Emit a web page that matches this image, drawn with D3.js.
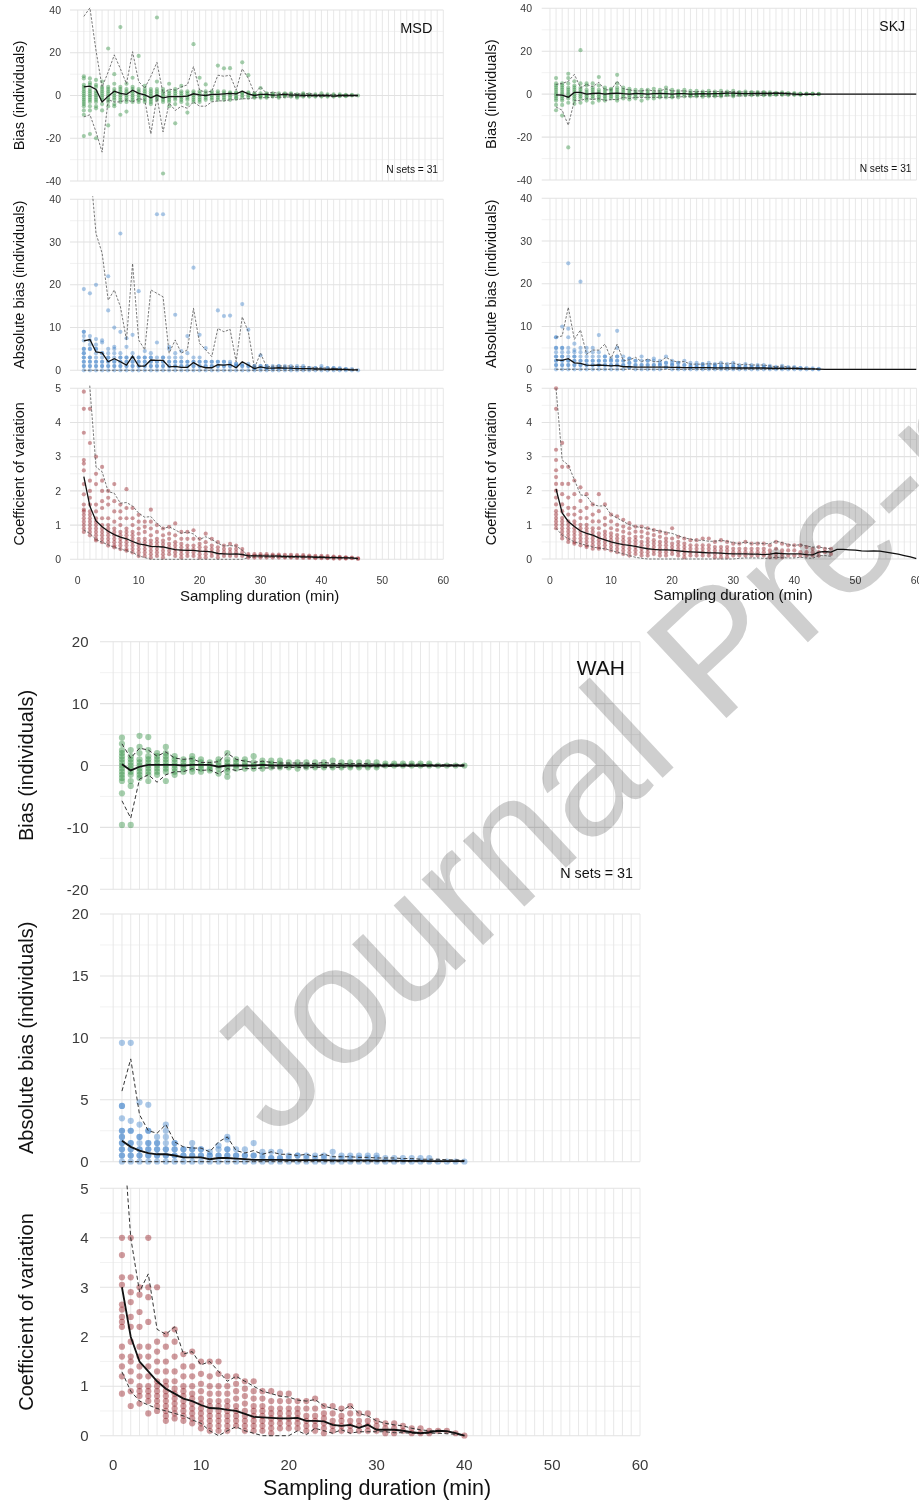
<!DOCTYPE html>
<html>
<head>
<meta charset="utf-8">
<script src="https://cdn.jsdelivr.net/npm/d3@7"></script>
<style>
  body { margin: 0; background: #fff; }
  svg { display: block; font-family: "Liberation Sans", Arial, sans-serif; }
</style>
</head>
<body>
<svg id="chart" width="919" height="1502"></svg>
<script>
// ---------- data ----------
const xTickLabels = [0, 10, 20, 30, 40, 50, 60];

// MSD
const msdBiasPts = [
  [9,8,5,4,3,2,1,0,-1,-2,-3,-4,-5,-7,-9,-19],
  [8,6,5,3,2,1,0,-1,-2,-3,-5,-7,-18],
  [7.3,5,4,2,1,0,-1,-2,-3,-5,-6,-20],
  [6.5,4,3,2,1,0,-1,-2,-4,-7],
  [22,4,3,2,1,0,-1,-2,-3,-5,-14],
  [10,5.5,3,2,1,0,-1,-2,-4,-5],
  [32,4,3,2,1,0,-1,-2,-3,-9],
  [5.5,3,2,1,0,-1,-2,-3,-7.5],
  [8.3,4,3,2,1,0,-1,-2,-3],
  [18.5,3,2,1,0,-1,-2,-3],
  [4.5,3,2,1,0,-1,-2,-3],
  [3,2,1,0,-1,-2,-3,-4],
  [36.5,6.5,3,2,1,0,-1,-2],
  [3,2,1,0,-1,-2,-3,-36.5],
  [5.5,2,1,0,-1,-2,-3,-5],
  [3,2,1,0,-1,-2,-4,-13],
  [4.5,2,1,0,-1,-2,-3],
  [2,1,0,-1,-2,-4,-8],
  [24,2,1,0,-1,-2,-3],
  [8.3,2,1,0,-1,-2,-3],
  [5.2,2,1,0,-1,-2],
  [2,1,0,-1,-2],
  [14,2,1,0,-1,-2],
  [12.7,2,1,0,-1,-2],
  [12.8,1.5,1,0,-1,-2],
  [1.5,1,0,-1,-1.5],
  [15.5,1.5,1,0,-1],
  [9.5,1.5,1,0,-1],
  [1,0.5,0,-0.5,-1],
  [3.5,1,0,-0.5,-1],
  [1,0.5,0,-0.5,-1],
  [1,0.5,0,-0.5],
  [1,0,-0.5,-1],
  [1,0.5,0,-0.5],
  [1,0.5,0,-0.5],
  [0.5,0,-0.5,-1],
  [1,0.5,0,-0.5],
  [0.5,0,-0.5],
  [0.5,0,-0.5],
  [1,0,-0.5],
  [0.5,0,-0.5],
  [0.5,0,-0.5],
  [0.5,0,-0.3],
  [0.3,0,-0.3],
  [0.3,0],
  [0]
];
const msdBiasMean = [4,4.4,2.8,-3,-0.3,2,1,0.5,2.5,1,0.3,-1.1,0.2,-1.1,-0.5,-0.5,-0.5,-0.3,0.8,0.3,0,0.5,0.5,0.8,1,0.8,2,0.8,0,0.5,0.5,0.2,0.3,0.5,0.2,0.3,0,0.2,0,0,0.1,-0.3,0,0,0,0];
const msdBiasUpper = [37,41,21,4,11,19,12.5,5.5,20.5,6.5,3.5,9,15.5,1,3,2.5,4,5,13.5,2.5,1.5,2,9.5,9,9.5,2.5,12.5,8,1,4,1,1.5,1,1,1,0.8,0.8,1,0.5,0.5,0.5,0.5,0.3,0.3,0.2,0.2];
const msdBiasLower = [-10,-9,-17,-26.5,-2,-3,-3,-2,-3,-1.5,-2,-18,-0.5,-17,-3.5,-7,-5,-6,-3,-5,-5,-3,-2.5,-2.5,-2,-2,-1.5,-1.5,-1,-1,-1,-0.8,-0.8,-0.8,-0.6,-0.6,-0.5,-0.5,-0.5,-0.5,-0.4,-0.6,-0.3,-0.3,-0.2,-0.2];
const msdAbsMean = [6.9,7.2,4.3,4.1,2,2.7,2,1.2,3.3,1,1,2.4,2.3,2.3,0.8,0.9,0.7,0.7,1.8,1,0.6,0.6,1.3,1.2,1.4,0.6,2,1.2,0.4,0.8,0.5,0.5,0.6,0.5,0.5,0.4,0.4,0.4,0.3,0.3,0.2,0.3,0.2,0.2,0.1,0.1];
const msdAbsUpper = [45,48,32,27.4,16.4,18.8,14.9,7.1,25,7.1,4.8,18.8,18,17.2,4,7.1,4,4.8,14.5,6.3,4.8,3.2,9.8,9,9.6,2,12.5,9,0.5,4,0.8,1,1,1,1,0.8,0.8,0.8,0.6,0.6,0.5,0.5,0.4,0.3,0.3,0.2];
const msdCvPts = [
  [4.9,4.4,3.7,2.9,2.8,2.6,2.2,1.9,1.6,1.45,1.4,1.3,1.2,1.1,1.0,0.9,0.8],
  [4.4,3.4,2.3,2.0,1.8,1.6,1.4,1.3,1.2,1.1,1.0,0.9,0.8,0.7],
  [3.0,2.5,2.2,1.6,1.4,1.2,1.1,1.0,0.9,0.8,0.7,0.6,0.55],
  [2.7,2.3,2.0,1.7,1.5,1.2,1.0,0.9,0.8,0.7,0.6,0.5],
  [2.0,1.8,1.6,1.2,1.0,0.9,0.8,0.7,0.6,0.5,0.4],
  [2.2,1.7,1.4,1.1,0.9,0.8,0.7,0.6,0.5,0.4,0.35],
  [1.6,1.4,1.2,1.0,0.8,0.7,0.6,0.5,0.4,0.3],
  [2.05,1.5,1.2,0.9,0.8,0.7,0.6,0.5,0.4,0.3,0.25],
  [1.5,1.2,1.0,0.8,0.7,0.6,0.5,0.4,0.3,0.2],
  [1.3,1.1,0.9,0.75,0.6,0.5,0.4,0.3,0.2,0.1],
  [1.1,0.95,0.8,0.6,0.5,0.4,0.3,0.2,0.1],
  [1.45,1.1,0.9,0.7,0.55,0.45,0.35,0.25,0.15,0.05],
  [1.0,0.8,0.6,0.5,0.4,0.3,0.2,0.1],
  [0.9,0.7,0.55,0.45,0.35,0.25,0.15,0.05],
  [0.95,0.75,0.6,0.45,0.35,0.25,0.15],
  [1.05,0.7,0.5,0.4,0.3,0.2,0.1],
  [0.8,0.6,0.45,0.35,0.25,0.15,0.05],
  [0.8,0.6,0.4,0.3,0.2,0.1],
  [0.85,0.6,0.4,0.3,0.2,0.1],
  [0.6,0.45,0.35,0.25,0.15,0.05],
  [0.75,0.5,0.35,0.25,0.15,0.05],
  [0.6,0.4,0.3,0.2,0.1],
  [0.5,0.35,0.25,0.15,0.05],
  [0.4,0.3,0.2,0.1],
  [0.45,0.3,0.2,0.1],
  [0.4,0.3,0.2,0.1],
  [0.3,0.2,0.1],
  [0.15,0.1,0.05],
  [0.15,0.1,0.05],
  [0.15,0.1,0.05],
  [0.15,0.1,0.05],
  [0.14,0.1,0.05],
  [0.14,0.1,0.05],
  [0.13,0.08,0.05],
  [0.13,0.08,0.05],
  [0.12,0.08,0.04],
  [0.12,0.08,0.04],
  [0.11,0.07,0.04],
  [0.1,0.06,0.03],
  [0.1,0.06,0.03],
  [0.09,0.05,0.03],
  [0.08,0.05,0.02],
  [0.07,0.05,0.02],
  [0.06,0.04,0.02],
  [0.05,0.03],
  [0.03,0.01]
];
const msdCvMean = [2.42,1.55,1.12,0.95,0.82,0.72,0.65,0.6,0.52,0.45,0.42,0.38,0.37,0.36,0.32,0.28,0.27,0.26,0.26,0.24,0.23,0.22,0.17,0.16,0.15,0.16,0.14,0.1,0.1,0.1,0.09,0.09,0.09,0.08,0.08,0.08,0.07,0.07,0.06,0.06,0.05,0.05,0.05,0.04,0.04,0.02];
const msdCvUpper = [8,5,2.7,2.56,1.98,1.93,1.64,1.66,1.56,1.35,1.23,1.25,1.05,0.9,0.95,0.86,0.76,0.8,0.74,0.58,0.66,0.58,0.47,0.39,0.4,0.39,0.27,0.1,0.12,0.12,0.12,0.12,0.11,0.11,0.1,0.1,0.1,0.09,0.08,0.08,0.07,0.07,0.06,0.06,0.05,0.03];
const msdCvLower = [0.86,0.75,0.58,0.5,0.42,0.35,0.3,0.25,0.2,0.1,0.05,0,0,0,0,0,0,0,0,0,0,0,0,0,0,0,0,0.05,0.07,0.07,0.06,0.06,0.06,0.05,0.05,0.05,0.05,0.05,0.04,0.04,0.04,0.03,0.03,0.03,0.02,0.01];

// SKJ
const skjBiasPts = [
  [7.5,5,4,3,2,1,0,-1,-2,-3,-5,-7.5],
  [5,4,3,2,1,0,-1,-2,-3,-5,-10],
  [9.5,7.5,5,3,2,1,0,-1,-2,-4,-24.8],
  [6,4,3,2,1,0,-1,-2,-3,-4.5],
  [20.5,5,3,2,1,0,-1,-2,-4],
  [5,4,2,1,0,-1,-2,-3],
  [5,3,2,1,0,-1,-2,-4],
  [8,4,2,1,0,-1,-2,-3],
  [3,2,1,0,-1,-2,-3],
  [2.5,2,1,0,-1,-2],
  [9,5,3,2,1,0,-1,-2,-3],
  [3,2,1,0,-1,-2],
  [2.5,1.5,0.5,-0.5,-1.5,-2.5],
  [2,1,0,-1,-2],
  [2,1,0,-1,-3],
  [2,1,0,-1,-2],
  [2.5,1,0,-1,-2],
  [2,1,0,-1,-1.5],
  [3,1.5,0.5,-0.5,-1.5],
  [2,1,0,-1,-1.5],
  [1.5,0.5,0,-0.5,-1.5],
  [2,1,0,-1],
  [1.5,0.5,0,-0.5,-1],
  [1.5,0.5,0,-0.5,-1],
  [1.2,0.5,0,-0.5,-1.2],
  [1.5,0.5,0,-0.5,-1],
  [1.2,0.5,0,-0.5,-1],
  [1.5,0.5,0,-0.5,-1],
  [1.2,0.5,0,-0.5],
  [1.5,0.5,0,-0.5,-1],
  [1,0.5,0,-0.5],
  [1.2,0.5,0,-0.5],
  [1,0.5,0,-0.5],
  [1,0.5,0,-0.5],
  [1,0.5,0,-0.5],
  [0.8,0.3,0,-0.5],
  [0.6,0.3,0,-0.3],
  [0.8,0.3,0,-0.3],
  [0.5,0,-0.3],
  [0.5,0,-0.3],
  [0.3,0,-0.3],
  [0.3,0],
  [0.2,0],
  [0.1,0]
];
const skjBiasMean = [-0.3,-0.5,-1.4,0.8,0.8,0,0.3,0.5,0,0.3,0.5,0.2,0,0.3,0.2,0,0.2,0.3,0.2,0,0.2,0.2,0,0.1,0.2,0.1,0.2,0.3,0.5,0.5,0.3,0.2,0.2,0.3,0.3,0.3,0.5,0.4,0.2,0,-0.2,0,-0.1,0,0,0,0,0,0,0,0,0,0,0,0,0,0,0,0,0];
const skjBiasUpper = [4.5,5,6,9.2,3,4.5,3.5,5.5,2,2,6,2.5,2,1.5,1.5,2,1.5,1.5,2.5,1.5,1.5,1.5,1.2,1.2,1.2,1.2,1.2,1.2,1.2,1.2,1,1,1,1,1,0.8,0.8,0.8,0.5,0.5,0.3,0.3,0.2,0.1];
const skjBiasLower = [-6,-7.5,-14.5,-3,-3,-2,-2.5,-2,-3,-2.5,-2.5,-1.5,-2,-1.5,-1.5,-1.5,-1.5,-1.5,-1.5,-1.5,-1.2,-1.2,-1.2,-1.2,-1,-1,-1,-1,-0.8,-0.8,-0.8,-0.8,-0.6,-0.6,-0.6,-0.5,-0.5,-0.5,-0.4,-0.4,-0.3,-0.2,-0.2,-0.1];
const skjAbsMean = [2.2,2.1,2.5,1.5,1.4,1,0.9,1,0.9,0.8,0.9,0.6,0.6,0.5,0.5,0.5,0.5,0.5,0.5,0.45,0.45,0.4,0.4,0.4,0.4,0.4,0.35,0.35,0.35,0.35,0.3,0.3,0.3,0.3,0.3,0.25,0.25,0.25,0.2,0.2,0.15,0.1,0.1,0.05,0,0,0,0,0,0,0,0,0,0,0,0,0,0,0,0];
const skjAbsUpper = [7.5,7.8,14.5,7,9.2,3.5,4.5,4.5,5.9,2.5,5.9,2,2.2,2.8,1.8,2.4,1.8,1.8,2.8,2,1.7,1.8,1.2,1.2,1.2,1.3,1.2,1.5,1.2,1.5,1,1.2,1,1,1,0.8,0.6,0.8,0.5,0.5,0.3,0.3,0.2,0.1];
const skjCvPts = [
  [5.0,4.4,3.2,2.9,2.6,2.4,2.2,2.0,1.8,1.6,1.4,1.3,1.2,1.1,1.0,0.9],
  [3.4,2.7,2.2,1.9,1.6,1.4,1.2,1.1,1.0,0.9,0.8,0.7,0.6],
  [2.7,2.2,1.8,1.5,1.3,1.1,1.0,0.9,0.8,0.7,0.6,0.5],
  [2.3,1.9,1.5,1.3,1.1,1.0,0.9,0.8,0.7,0.6,0.5,0.45],
  [2.1,1.7,1.4,1.2,1.0,0.9,0.8,0.7,0.6,0.5,0.4],
  [1.9,1.5,1.2,1.0,0.9,0.8,0.7,0.6,0.5,0.4,0.35],
  [1.6,1.3,1.1,0.9,0.8,0.7,0.6,0.5,0.4,0.3],
  [1.9,1.4,1.1,0.9,0.75,0.65,0.55,0.45,0.35,0.3],
  [1.6,1.2,1.0,0.8,0.7,0.6,0.5,0.4,0.3],
  [1.3,1.1,0.9,0.75,0.65,0.55,0.45,0.35,0.25],
  [1.25,1.0,0.85,0.7,0.6,0.5,0.4,0.3,0.2],
  [1.15,0.95,0.8,0.65,0.55,0.45,0.35,0.25,0.15],
  [1.05,0.9,0.75,0.6,0.5,0.4,0.3,0.2,0.1],
  [0.95,0.8,0.65,0.55,0.45,0.35,0.25,0.15],
  [0.95,0.8,0.65,0.5,0.4,0.3,0.2,0.1],
  [0.9,0.75,0.6,0.5,0.4,0.3,0.2,0.1],
  [0.85,0.7,0.55,0.45,0.35,0.25,0.15],
  [0.8,0.65,0.5,0.4,0.3,0.2,0.1],
  [0.75,0.6,0.5,0.4,0.3,0.2,0.1],
  [0.9,0.6,0.45,0.35,0.25,0.15],
  [0.65,0.5,0.4,0.3,0.2,0.1],
  [0.6,0.45,0.35,0.25,0.15,0.05],
  [0.55,0.4,0.3,0.2,0.1],
  [0.55,0.4,0.3,0.2,0.1],
  [0.6,0.4,0.3,0.2,0.1],
  [0.6,0.4,0.3,0.2,0.1],
  [0.5,0.35,0.25,0.15,0.05],
  [0.55,0.35,0.25,0.15,0.05],
  [0.5,0.35,0.25,0.15,0.05],
  [0.45,0.3,0.2,0.1],
  [0.45,0.3,0.2,0.1],
  [0.5,0.3,0.2,0.1],
  [0.45,0.3,0.2,0.1],
  [0.45,0.3,0.2,0.1],
  [0.45,0.3,0.2,0.1],
  [0.4,0.25,0.15,0.05],
  [0.5,0.3,0.15,0.05],
  [0.45,0.25,0.15,0.05],
  [0.4,0.25,0.1],
  [0.4,0.25,0.1],
  [0.4,0.2,0.1],
  [0.35,0.2,0.1],
  [0.3,0.2,0.1],
  [0.35,0.2,0.1],
  [0.3,0.2],
  [0.3,0.15]
];
const skjCvMean = [2.05,1.35,1.1,0.95,0.82,0.75,0.7,0.62,0.56,0.5,0.46,0.42,0.4,0.37,0.33,0.3,0.28,0.27,0.27,0.26,0.24,0.22,0.21,0.2,0.19,0.18,0.18,0.17,0.16,0.15,0.15,0.15,0.14,0.14,0.13,0.14,0.17,0.16,0.15,0.15,0.15,0.13,0.12,0.2,0.22,0.2,0.28,0.28,0.27,0.26,0.24,0.23,0.24,0.23,0.2,0.17,0.14,0.1,0.06,0.01];
const skjCvUpper = [5,2.9,2.75,2.32,1.88,1.85,1.6,1.55,1.56,1.3,1.2,1.1,1,0.95,0.92,0.9,0.85,0.82,0.78,0.75,0.68,0.62,0.58,0.55,0.55,0.52,0.52,0.55,0.52,0.48,0.45,0.5,0.45,0.47,0.45,0.45,0.52,0.48,0.42,0.4,0.42,0.38,0.35,0.35,0.32,0.3];
const skjCvLower = [0.9,0.7,0.6,0.5,0.45,0.4,0.35,0.32,0.3,0.25,0.2,0.15,0.1,0.05,0.02,0,0,0,0,0,0,0,0,0,0,0,0,0,0,0,0.02,0.03,0.03,0.03,0.02,0.02,0.05,0.04,0.03,0.03,0.05,0.03,0.02,0.1,0.1,0.08];

// WAH
const wahBiasPts = [
  [4.5,3.5,2.5,2,1.5,1,0.5,0,-0.5,-1,-1.5,-2,-2.5,-4.5,-9.6],
  [2.5,1.5,1,0.5,0,-0.5,-1,-1.5,-2.5,-3.3,-9.6],
  [4.8,3,2,1,0.5,0,-0.5,-1,-1.5,-2],
  [4.6,2.5,1.5,1,0.5,0,-0.5,-1,-1.5,-2.5],
  [2,1.5,1,0.5,0,-0.5,-1,-1.5],
  [3,2,1.5,1,0.5,0,-0.5,-1,-2.5],
  [1.5,1,0.5,0,-0.5,-1,-1.5],
  [1,0.5,0,-0.5,-1],
  [1.5,1,0.5,0,-0.5,-1],
  [1,0.5,0,-0.5,-1],
  [0.5,0,-0.5,-0.8],
  [1,0.5,0,-0.5,-1.3],
  [2,1,0.5,0,-0.5,-1,-1.8],
  [1,0.5,0,-0.5],
  [1,0.5,0,-0.5],
  [1.5,0.5,0,-0.5],
  [0.8,0.3,0,-0.5],
  [0.8,0.3,0,-0.3],
  [0.8,0.3,0,-0.3],
  [0.5,0,-0.3],
  [0.5,0,-0.5],
  [0.5,0,-0.3],
  [0.5,0,-0.3],
  [0.5,0,-0.3],
  [0.8,0,-0.3],
  [0.5,0,-0.3],
  [0.5,0,-0.3],
  [0.5,0,-0.3],
  [0.5,0,-0.3],
  [0.5,0,-0.3],
  [0.3,0],
  [0.3,0],
  [0.3,0],
  [0.3,0],
  [0.3,0],
  [0.3,0],
  [0],
  [0],
  [0],
  [0]
];
const wahBiasMean = [0.2,-0.8,-0.2,0.1,0.1,0.1,0.1,0,0.1,0.1,0.1,-0.2,0,0,0,0,0.1,0,0,0,0,0,0,0,0,0,0,0,0,0,0,0,0,0,0,0,0,0,0,0];
const wahBiasUpper = [3.5,1.2,2.8,2.5,1.5,2.2,1.2,1,1.1,0.5,0.5,0.6,2,1,0.7,0.5,0.7,0.5,0.4,0.4,0.4,0.4,0.3,0.5,0.3,0.3,0.3,0.3,0.3,0.2,0.2,0.2,0.2,0.2,0.2,0.1,0.1,0.1,0.1,0.1];
const wahBiasLower = [-5.7,-8.5,-2.2,-1.5,-2.7,-1.5,-1,-1,-0.5,-0.8,-0.7,-1.35,-0.5,-0.8,-0.5,-0.5,-0.4,-0.4,-0.4,-0.3,-0.3,-0.4,-0.3,-0.3,-0.3,-0.3,-0.2,-0.2,-0.2,-0.2,-0.2,-0.1,-0.1,-0.1,-0.1,-0.1,-0.1,-0.1,-0.1,-0.1];
const wahAbsMean = [1.7,1.2,0.9,0.7,0.6,0.6,0.5,0.35,0.35,0.35,0.2,0.3,0.3,0.25,0.2,0.15,0.15,0.15,0.15,0.12,0.12,0.12,0.12,0.12,0.1,0.1,0.1,0.1,0.1,0.08,0.08,0.08,0.06,0.06,0.06,0.05,0.05,0.05,0.05,0.05];
const wahAbsUpper = [5.7,8.3,3.8,2.5,2.3,3,1.6,1.2,1.1,1.1,0.8,1.6,2,0.9,0.7,0.9,0.6,0.8,0.6,0.6,0.5,0.6,0.4,0.6,0.4,0.4,0.4,0.35,0.35,0.3,0.3,0.3,0.25,0.25,0.2,0.2,0.2,0.15,0.15,0.1];
const wahCvPts = [
  [4.0,3.65,3.2,3.05,2.65,2.55,2.4,2.3,2.2,1.8,1.6,1.4,1.2,0.85],
  [4.0,3.2,2.9,2.7,2.4,2.2,1.9,1.6,1.5,1.3,1.1,0.9,0.6],
  [3.0,2.85,2.5,2.2,1.8,1.6,1.4,1.2,1.0,0.9,0.8,0.65],
  [4.0,3.0,2.8,2.3,1.8,1.6,1.4,1.2,1.0,0.9,0.8,0.7,0.45],
  [3.0,1.9,1.7,1.5,1.3,1.1,1.0,0.9,0.8,0.7,0.6,0.5],
  [2.05,1.8,1.5,1.3,1.1,1.0,0.9,0.8,0.7,0.6,0.5,0.4,0.3],
  [2.15,1.9,1.6,1.3,1.1,0.95,0.85,0.75,0.65,0.55,0.45,0.35],
  [1.65,1.4,1.2,1.0,0.9,0.8,0.7,0.6,0.5,0.4,0.3],
  [1.7,1.4,1.2,1.0,0.85,0.75,0.65,0.55,0.45,0.35,0.25],
  [1.5,1.25,1.05,0.9,0.75,0.65,0.55,0.45,0.35,0.25,0.15],
  [1.5,1.2,1.0,0.85,0.7,0.6,0.5,0.4,0.3,0.2,0.1],
  [1.5,1.25,1.0,0.85,0.7,0.6,0.5,0.4,0.3,0.2,0.1],
  [1.2,1.0,0.85,0.7,0.6,0.5,0.4,0.3,0.2,0.1],
  [1.2,1.05,0.9,0.75,0.6,0.5,0.4,0.3,0.2],
  [1.1,0.95,0.8,0.65,0.5,0.4,0.3,0.2,0.1],
  [1.1,0.9,0.75,0.6,0.5,0.4,0.3,0.2,0.1],
  [0.9,0.75,0.6,0.5,0.4,0.3,0.2,0.1],
  [0.9,0.7,0.55,0.45,0.35,0.25,0.15,0.05],
  [0.85,0.7,0.55,0.45,0.35,0.25,0.15],
  [0.85,0.7,0.55,0.45,0.35,0.25,0.15],
  [0.7,0.55,0.45,0.35,0.25,0.15],
  [0.7,0.55,0.4,0.3,0.2,0.1],
  [0.75,0.55,0.4,0.3,0.2,0.1],
  [0.6,0.45,0.35,0.25,0.15,0.05],
  [0.6,0.45,0.3,0.2,0.1],
  [0.55,0.4,0.3,0.2,0.1],
  [0.6,0.45,0.3,0.2,0.1],
  [0.45,0.3,0.2,0.1],
  [0.45,0.3,0.2,0.1],
  [0.3,0.2,0.1],
  [0.25,0.15,0.05],
  [0.25,0.15,0.05],
  [0.2,0.1],
  [0.15,0.05],
  [0.15,0.05],
  [0.1,0.05],
  [0.1],
  [0.1],
  [0.05],
  [0]
];
const wahCvMean = [3,2,1.5,1.3,1.1,0.95,0.85,0.75,0.7,0.62,0.56,0.55,0.52,0.5,0.44,0.38,0.37,0.36,0.35,0.35,0.36,0.3,0.3,0.29,0.22,0.2,0.22,0.16,0.22,0.12,0.12,0.12,0.1,0.07,0.05,0.07,0.1,0.09,0.05,0];
const wahCvUpper = [6.5,4,2.91,3.27,2.15,2.05,2.2,1.65,1.7,1.43,1.5,1.3,1.1,1.2,1.1,1,0.9,0.85,0.8,0.78,0.72,0.7,0.73,0.6,0.55,0.5,0.61,0.45,0.4,0.3,0.25,0.22,0.2,0.15,0.12,0.1,0.1,0.08,0.05,0];
const wahCvLower = [1.29,0.9,0.7,0.62,0.55,0.5,0.45,0.4,0.32,0.25,0.1,0,0.1,0.18,0.1,0.05,0,0,0,0,0.1,0.02,0.15,0.1,0.05,0.12,0.05,0.08,0.08,0.08,0.08,0.06,0.06,0.05,0.05,0.05,0.05,0.04,0.03,0];

// ---------- drawing ----------
const svg = d3.select("#chart");
const green = "#2b8c3c", blue = "#3a7ec8", red = "#8f1019";
let clipCount = 0;

function zeros(n) { return new Array(n).fill(0); }

function drawPanel(p) {
  const x = d3.scaleLinear().domain(p.xDomain).range(p.xRange);
  const y = d3.scaleLinear().domain(p.yDomain).range(p.yRange);
  const g = svg.append("g");
  const id = "clip" + (clipCount++);
  g.append("clipPath").attr("id", id)
    .append("rect")
      .attr("x", p.xRange[0]).attr("y", p.yRange[1] - 3)
      .attr("width", p.xRange[1] - p.xRange[0])
      .attr("height", p.yRange[0] - p.yRange[1] + 6);

  // grid
  g.selectAll(".minor").data(p.minor).join("line")
    .attr("x1", p.xRange[0]).attr("x2", p.xRange[1])
    .attr("y1", d => y(d)).attr("y2", d => y(d))
    .attr("stroke", "#f0f0f0").attr("stroke-width", 0.9);
  g.selectAll(".vgrid").data(d3.range(0, 61)).join("line")
    .attr("x1", d => x(d)).attr("x2", d => x(d))
    .attr("y1", p.yRange[0]).attr("y2", p.yRange[1])
    .attr("stroke", "#e5e5e5").attr("stroke-width", 0.9);
  g.selectAll(".major").data(p.ticks).join("line")
    .attr("x1", p.xRange[0]).attr("x2", p.xRange[1])
    .attr("y1", d => y(d)).attr("y2", d => y(d))
    .attr("stroke", "#e2e2e2").attr("stroke-width", 1.1);

  // y tick labels
  g.selectAll(".ytick").data(p.ticks).join("text")
    .attr("x", p.tickX).attr("y", d => y(d)).attr("dy", "0.35em")
    .attr("text-anchor", "end")
    .attr("font-size", p.tickSize).attr("fill", "#3a3a3a")
    .text(d => d);

  // y title
  g.append("text")
    .attr("transform", `translate(${p.titleX},${(p.yRange[0] + p.yRange[1]) / 2}) rotate(-90)`)
    .attr("text-anchor", "middle").attr("dy", "0.35em")
    .attr("font-size", p.titleSize).attr("fill", "#111")
    .text(p.title);

  const body = g.append("g").attr("clip-path", `url(#${id})`);

  // points
  const pts = [];
  p.points.forEach((vals, i) => vals.forEach(v => pts.push({m: i + 1, v: p.abs ? Math.abs(v) : v})));
  body.selectAll("circle").data(pts).join("circle")
    .attr("cx", d => x(d.m)).attr("cy", d => y(d.v))
    .attr("r", p.r).attr("fill", p.color).attr("fill-opacity", 0.42);

  const line = d3.line().x((d, i) => x(i + 1)).y(d => y(d));
  [p.upper, p.lower].forEach(s => {
    body.append("path").attr("d", line(s))
      .attr("fill", "none").attr("stroke", p.dashColor)
      .attr("stroke-width", p.dashWidth).attr("stroke-dasharray", p.dash);
  });
  body.append("path").attr("d", line(p.mean))
    .attr("fill", "none").attr("stroke", "#111").attr("stroke-width", p.meanWidth);

  if (p.xLabels) {
    g.selectAll(".xtick").data(xTickLabels).join("text")
      .attr("x", d => x(d)).attr("y", p.xLabelY).attr("dy", "0.35em")
      .attr("text-anchor", "middle")
      .attr("font-size", p.tickSize).attr("fill", "#3a3a3a")
      .text(d => d);
    g.append("text")
      .attr("x", (p.xRange[0] + p.xRange[1]) / 2 + p.xTitleShift).attr("y", p.xTitleY).attr("dy", "0.35em")
      .attr("text-anchor", "middle").attr("font-size", p.xTitleSize).attr("fill", "#111")
      .text("Sampling duration (min)");
  }
  if (p.label) {
    g.append("text").attr("x", p.label.x).attr("y", p.label.y)
      .attr("text-anchor", "end").attr("font-size", p.label.size).attr("fill", "#111")
      .text(p.label.text);
    g.append("text").attr("x", p.nsets.x).attr("y", p.nsets.y)
      .attr("text-anchor", "end").attr("font-size", p.nsets.size).attr("fill", "#111")
      .text("N sets = 31");
  }
}

const small = {r: 2.1, tickSize: 10.5, titleSize: 14.5, xTitleSize: 15, meanWidth: 1.3,
               dashColor: "#555", dashWidth: 0.8, dash: "2.5,1.5"};
const big = {r: 3.1, tickSize: 15, titleSize: 20, xTitleSize: 21.5, meanWidth: 1.8,
             dashColor: "#333", dashWidth: 1, dash: "4,2.5"};

const blocks = [
  {name: "MSD", xDomain: [-1.27, 60], xRange: [70, 443.3], tickX: 61, titleX: 18.5, s: small,
   rows: [[10, 181], [199.3, 370.3], [388.3, 559.3]], xLabelY: 580, xTitleY: 596, xTitleShift: 3,
   label: {x: 432.5, y: 33, size: 14.5}, nsets: {x: 438, y: 172.5, size: 10.2},
   bias: [msdBiasPts, msdBiasMean, msdBiasUpper, msdBiasLower],
   abs: [msdAbsMean, msdAbsUpper], cv: [msdCvPts, msdCvMean, msdCvUpper, msdCvLower]},
  {name: "SKJ", xDomain: [-1.35, 60], xRange: [541.7, 916.5], tickX: 532, titleX: 491, s: small,
   rows: [[8.3, 180], [198.3, 369.3], [388.3, 559]], xLabelY: 580, xTitleY: 595, xTitleShift: 4,
   label: {x: 905, y: 31, size: 14}, nsets: {x: 911.5, y: 171.5, size: 10.2},
   bias: [skjBiasPts, skjBiasMean, skjBiasUpper, skjBiasLower],
   abs: [skjAbsMean, skjAbsUpper], cv: [skjCvPts, skjCvMean, skjCvUpper, skjCvLower]},
  {name: "WAH", xDomain: [-1.5, 60], xRange: [100, 640], tickX: 88.5, titleX: 26, s: big,
   rows: [[641.7, 889.3], [914, 1161.7], [1188.3, 1435.7]], xLabelY: 1465, xTitleY: 1487, xTitleShift: 7,
   label: {x: 625, y: 675, size: 21}, nsets: {x: 633, y: 878, size: 14.3},
   bias: [wahBiasPts, wahBiasMean, wahBiasUpper, wahBiasLower],
   abs: [wahAbsMean, wahAbsUpper], cv: [wahCvPts, wahCvMean, wahCvUpper, wahCvLower]}
];

blocks.forEach(b => {
  const s = b.s;
  const isBig = b.name === "WAH";
  const common = Object.assign({}, s, {xDomain: b.xDomain, xRange: b.xRange, tickX: b.tickX, titleX: b.titleX});
  // bias
  drawPanel(Object.assign({}, common, {
    yDomain: isBig ? [-20, 20] : [-40, 40], yRange: [b.rows[0][1], b.rows[0][0]],
    ticks: isBig ? [-20, -10, 0, 10, 20] : [-40, -20, 0, 20, 40],
    minor: isBig ? [-15, -5, 5, 15] : [-30, -10, 10, 30],
    title: "Bias (individuals)", color: green,
    points: b.bias[0], mean: b.bias[1], upper: b.bias[2], lower: b.bias[3],
    label: Object.assign({text: b.name}, b.label), nsets: b.nsets
  }));
  // absolute bias
  drawPanel(Object.assign({}, common, {
    yDomain: isBig ? [0, 20] : [0, 40], yRange: [b.rows[1][1], b.rows[1][0]],
    ticks: isBig ? [0, 5, 10, 15, 20] : [0, 10, 20, 30, 40],
    minor: isBig ? [2.5, 7.5, 12.5, 17.5] : [5, 15, 25, 35],
    title: "Absolute bias (individuals)", color: blue, abs: true,
    points: b.bias[0], mean: b.abs[0], upper: b.abs[1], lower: zeros(b.abs[1].length)
  }));
  // coefficient of variation
  drawPanel(Object.assign({}, common, {
    yDomain: [0, 5], yRange: [b.rows[2][1], b.rows[2][0]],
    ticks: [0, 1, 2, 3, 4, 5], minor: [0.5, 1.5, 2.5, 3.5, 4.5],
    title: "Coefficient of variation", color: red,
    points: b.cv[0], mean: b.cv[1], upper: b.cv[2], lower: b.cv[3],
    xLabels: true, xLabelY: b.xLabelY, xTitleY: b.xTitleY, xTitleShift: b.xTitleShift
  }));
});

// watermark
svg.append("text")
  .attr("transform", "translate(274,1140) rotate(-43)")
  .attr("font-size", 170)
  .attr("fill", "#cfcfcf")
  .style("mix-blend-mode", "multiply")
  .text("Journal Pre-proof");
</script>
</body>
</html>
